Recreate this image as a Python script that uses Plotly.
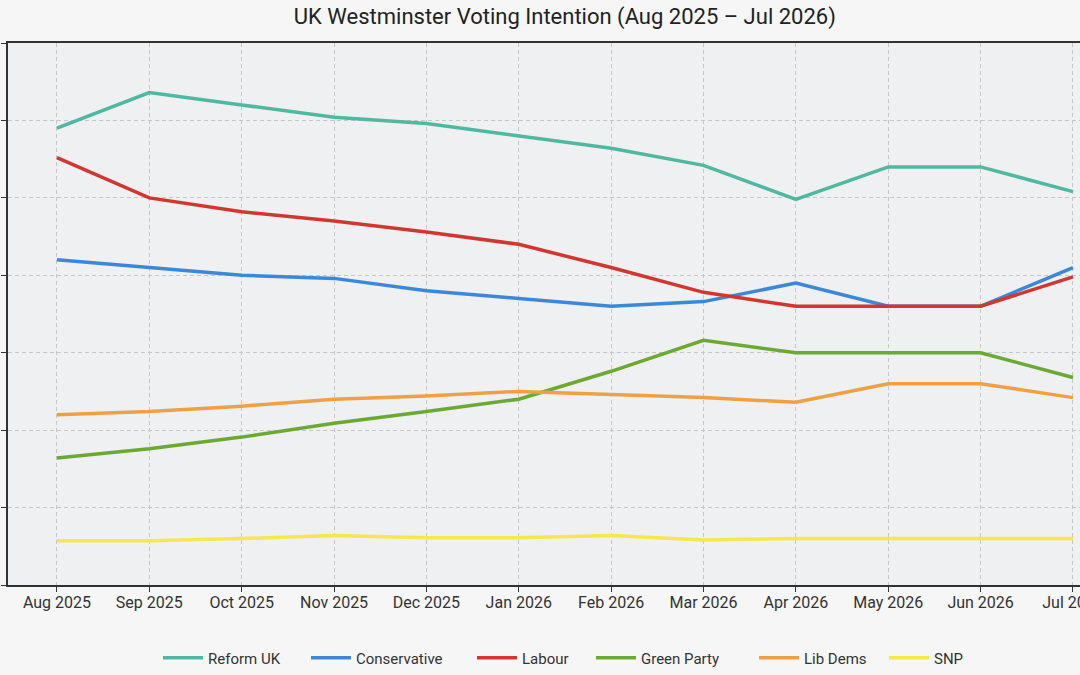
import plotly.graph_objects as go

months = ["Aug 2025", "Sep 2025", "Oct 2025", "Nov 2025", "Dec 2025", "Jan 2026",
          "Feb 2026", "Mar 2026", "Apr 2026", "May 2026", "Jun 2026", "Jul 2026"]

reform = [29.5, 31.8, 31.0, 30.2, 29.8, 29.0, 28.2, 27.1, 24.9, 27.0, 27.0, 25.4]
conservative = [21.0, 20.5, 20.0, 19.8, 19.0, 18.5, 18.0, 18.3, 19.5, 18.0, 18.0, 20.5]
labour = [27.6, 25.0, 24.1, 23.5, 22.8, 22.0, 20.5, 18.9, 18.0, 18.0, 18.0, 19.9]
green = [8.2, 8.8, 9.55, 10.45, 11.2, 12.0, 13.8, 15.8, 15.0, 15.0, 15.0, 13.4]
libdems = [11.0, 11.2, 11.55, 12.0, 12.2, 12.5, 12.3, 12.1, 11.8, 13.0, 13.0, 12.1]
snp = [2.85, 2.85, 3.0, 3.2, 3.05, 3.05, 3.2, 2.9, 3.0, 3.0, 3.0, 3.0]

series = [
    ("Reform UK", reform, "#4fb8a0"),
    ("Conservative", conservative, "#3b88da"),
    ("Labour", labour, "#d2372f"),
    ("Green Party", green, "#6aaa33"),
    ("Lib Dems", libdems, "#f0a042"),
    ("SNP", snp, "#f4e84c"),
]

# legend entry left positions (px) in the page
legend_x_px = [166, 314, 480, 599, 762, 892]

fig = go.Figure()
legend_layouts = {}
for i, (name, vals, color) in enumerate(series):
    lname = "legend" if i == 0 else f"legend{i + 1}"
    fig.add_trace(go.Scatter(
        x=months, y=vals, name=name, mode="lines",
        line=dict(color=color, width=3.5),
        legend=lname,
    ))
    legend_layouts[lname] = dict(
        orientation="h",
        x=(legend_x_px[i] - 8) / 1080, xref="container", xanchor="left",
        y=1 - 658 / 675, yref="container", yanchor="middle",
        font=dict(size=15, color="#333333"),
        bgcolor="rgba(0,0,0,0)",
        itemwidth=40,
    )

fig.update_layout(
    width=1080, height=675,
    margin=dict(l=8, r=0, t=43, b=90),
    paper_bgcolor="#f6f6f6",
    plot_bgcolor="#eff0f2",
    font=dict(family="Roboto", color="#333333", size=14),
    title=dict(
        text="UK Westminster Voting Intention (Aug 2025 \u2013 Jul 2026)",
        x=0.523, xref="container", xanchor="center",
        y=1 - 16 / 675, yref="container", yanchor="middle",
        font=dict(size=22, color="#222222"),
    ),
    showlegend=True,
    **legend_layouts,
)

fig.update_xaxes(
    type="category",
    range=[-0.53, 11.076],
    automargin=False,
    showgrid=True, gridcolor="#c6c6c6", griddash="4px,3px", gridwidth=1,
    showline=True, linecolor="#333333", linewidth=1.5, mirror=True,
    ticks="outside", ticklen=5, tickcolor="#333333",
    tickfont=dict(size=16, color="#333333"),
    ticklabelstandoff=-3,
    zeroline=False,
)
fig.update_yaxes(
    range=[0, 35], dtick=5, tick0=0,
    automargin=False,
    showgrid=True, gridcolor="#c6c6c6", griddash="4px,3px", gridwidth=1,
    showline=True, linecolor="#333333", linewidth=1.5,
    ticks="outside", ticklen=5, tickcolor="#333333",
    showticklabels=False,
    zeroline=False,
)

fig.write_html("out.html")
